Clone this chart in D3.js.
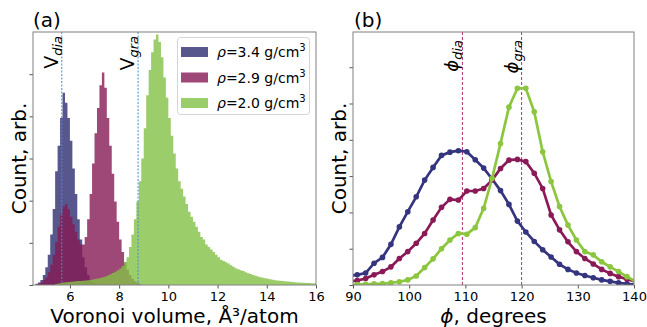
<!DOCTYPE html>
<html>
<head>
<meta charset="utf-8">
<script src="https://cdn.jsdelivr.net/npm/d3@7"></script>
<style>
  body { margin: 0; background: #fff; }
  text { font-family: "DejaVu Sans", sans-serif; fill: #000; }
</style>
</head>
<body>
<div class="chart"></div>
<script>
// Panel (a): Voronoi volume histograms, heights as fraction of the axis height
var binWidth = 0.1;
var blueStart = 4.6;
var blueHist = [0.005, 0.01, 0.02, 0.04, 0.07, 0.12, 0.2, 0.3, 0.45, 0.55,
  0.66, 0.76, 0.72, 0.66, 0.57, 0.46, 0.36, 0.26, 0.18, 0.11,
  0.07, 0.04, 0.02, 0.01, 0.005];
var purpleStart = 4.7;
var purpleHist = [0.005, 0.01, 0.02, 0.03, 0.05, 0.08, 0.12, 0.17, 0.23, 0.28,
  0.31, 0.32, 0.3, 0.27, 0.24, 0.21, 0.18, 0.16, 0.16, 0.19,
  0.26, 0.36, 0.48, 0.6, 0.7, 0.79, 0.84, 0.78, 0.66, 0.55,
  0.44, 0.33, 0.25, 0.18, 0.13, 0.09, 0.06, 0.04, 0.025, 0.015,
  0.01, 0.005];
var greenStart = 5.4;
var greenHist = [0.004, 0.006, 0.008, 0.01, 0.011, 0.012, 0.013, 0.014, 0.015, 0.016,
  0.016, 0.017, 0.018, 0.019, 0.02, 0.022, 0.024, 0.026, 0.028, 0.031,
  0.034, 0.038, 0.042, 0.047, 0.052, 0.058, 0.065, 0.075, 0.09, 0.11,
  0.15, 0.2, 0.26, 0.33, 0.41, 0.5, 0.62, 0.75, 0.85, 0.92,
  0.97, 0.99, 0.96, 0.9, 0.82, 0.74, 0.66, 0.59, 0.52, 0.46,
  0.41, 0.38, 0.35, 0.32, 0.29, 0.27, 0.25, 0.23, 0.21, 0.19,
  0.18, 0.16, 0.15, 0.14, 0.13, 0.12, 0.11, 0.1, 0.095, 0.09,
  0.085, 0.078, 0.072, 0.066, 0.062, 0.058, 0.055, 0.05, 0.046, 0.043,
  0.04, 0.037, 0.034, 0.031, 0.029, 0.027, 0.025, 0.023, 0.021, 0.019,
  0.018, 0.017, 0.016, 0.015, 0.014, 0.013, 0.012, 0.011, 0.01, 0.01,
  0.009, 0.009, 0.008, 0.008, 0.007, 0.007];
var legendLabels = ["3.4", "2.9", "2.0"];
var vDia = 5.67, vGra = 8.77;
var volTicks = [6, 8, 10, 12, 14, 16];

// Panel (b): bond angle distributions
var angles = [89.25, 90.75, 92.25, 93.75, 95.25, 96.75, 98.25, 99.75, 101.25, 102.75,
  104.25, 105.75, 107.25, 108.75, 110.25, 111.75, 113.25, 114.75, 116.25, 117.75,
  119.25, 120.75, 122.25, 123.75, 125.25, 126.75, 128.25, 129.75, 131.25, 132.75,
  134.25, 135.75, 137.25, 138.75, 140.25];
var blueAngle = [0.25, 0.28, 0.33, 0.6, 0.76, 1.12, 1.6, 2.02, 2.43, 2.89,
  3.24, 3.57, 3.66, 3.7, 3.67, 3.45, 3.22, 2.92, 2.6, 2.22,
  1.76, 1.46, 1.2, 0.97, 0.77, 0.57, 0.43, 0.33, 0.26, 0.2,
  0.14, 0.1, 0.06, 0.03, 0.01];
var purpleAngle = [0.1, 0.12, 0.18, 0.28, 0.37, 0.5, 0.73, 0.92, 1.15, 1.42,
  1.79, 2.14, 2.36, 2.34, 2.59, 2.59, 2.66, 2.89, 3.21, 3.44,
  3.46, 3.4, 3.08, 2.66, 1.93, 1.52, 1.19, 0.92, 0.73, 0.58,
  0.43, 0.32, 0.23, 0.16, 0.1];
var greenAngle = [0.0, 0.01, 0.02, 0.03, 0.04, 0.06, 0.09, 0.14, 0.25, 0.48,
  0.72, 1.0, 1.24, 1.42, 1.4, 1.58, 2.11, 2.94, 3.9, 4.9,
  5.42, 5.42, 4.77, 3.67, 2.85, 2.16, 1.65, 1.24, 0.92, 0.83,
  0.64, 0.5, 0.37, 0.23, 0.1];
var phiDia = 109.47, phiGra = 120;
var angleTicks = [90, 100, 110, 120, 130, 140];

var fills = ["#2d2d70", "#861a55", "#83c146"];
var lineColors = ["#34347f", "#8a1a57", "#8cc63f"];

var svgWidth = 647, svgHeight = 327;
var plotTop = 32, plotBottom = 285;
var bLeft = 353, bRight = 634;

var svg = d3.select(".chart").append("svg")
  .attr("width", svgWidth)
  .attr("height", svgHeight);

// ---------- panel (a) ----------
var xA = d3.scaleLinear().domain([4.5, 16]).range([33, 316]);
var yA = d3.scaleLinear().domain([0, 1]).range([plotBottom, plotTop]);

svg.append("clipPath").attr("id", "clipA")
  .append("rect").attr("x", 33).attr("y", plotTop).attr("width", 283).attr("height", plotBottom - plotTop);

function histPoints(start, hist) {
  var pts = hist.map((h, i) => ({ x: start + i * binWidth, y: h }));
  pts.push({ x: start + hist.length * binWidth, y: 0 });
  return pts;
}

var histArea = d3.area()
  .x(d => xA(d.x))
  .y0(yA(0))
  .y1(d => yA(d.y))
  .curve(d3.curveStepAfter);

var histGroup = svg.append("g").attr("clip-path", "url(#clipA)");
[[blueStart, blueHist], [purpleStart, purpleHist], [greenStart, greenHist]].forEach((s, i) => {
  histGroup.append("path")
    .attr("d", histArea(histPoints(s[0], s[1])))
    .attr("fill", fills[i])
    .attr("fill-opacity", 0.8);
});

// reference volumes
[vDia, vGra].forEach(v => {
  svg.append("line")
    .attr("x1", xA(v)).attr("x2", xA(v))
    .attr("y1", plotTop).attr("y2", plotBottom)
    .attr("stroke", "#3f8fcc")
    .attr("stroke-width", 1)
    .attr("stroke-dasharray", "2,1.5");
});

function rotLabel(x, y, main, sub) {
  var t = svg.append("text")
    .attr("transform", `translate(${x},${y}) rotate(-90)`)
    .attr("text-anchor", "end")
    .style("font-size", "19px");
  t.append("tspan").text(main);
  t.append("tspan").text(sub)
    .style("font-size", "13px")
    .style("font-style", "italic")
    .attr("dy", 4);
}
rotLabel(xA(vDia) - 4, 36, "V", "dia");
rotLabel(xA(vGra) - 4, 36, "V", "gra");

// axes a
svg.append("g").attr("transform", `translate(0,${plotBottom})`)
  .call(d3.axisBottom(xA).tickValues(volTicks).tickSize(3.5).tickPadding(3));
svg.append("g").attr("transform", "translate(33,0)")
  .call(d3.axisLeft(yA).tickValues([0, 1 / 6, 2 / 6, 3 / 6, 4 / 6, 5 / 6]).tickSize(3.5).tickFormat(""));

svg.append("rect")
  .attr("x", 33).attr("y", plotTop).attr("width", 283).attr("height", plotBottom - plotTop)
  .attr("fill", "none").attr("stroke", "#808080").attr("stroke-width", 1);

// legend
var legend = svg.append("g");
legend.append("rect")
  .attr("x", 177.5).attr("y", 37.5).attr("width", 132).attr("height", 77)
  .attr("rx", 3).attr("fill", "#fff").attr("fill-opacity", 0.8)
  .attr("stroke", "#d5d5d5");
legendLabels.forEach((lab, i) => {
  var cy = 52 + i * 25.5;
  legend.append("rect")
    .attr("x", 181).attr("y", cy - 5).attr("width", 27).attr("height", 10)
    .attr("fill", fills[i]).attr("fill-opacity", 0.8);
  var t = legend.append("text").attr("x", 217).attr("y", cy + 5).style("font-size", "14px");
  t.append("tspan").text("ρ").style("font-style", "italic");
  t.append("tspan").text("=" + lab + " g/cm");
  t.append("tspan").text("3").style("font-size", "10px").attr("dy", -6);
});

svg.append("text").attr("x", 33).attr("y", 27).style("font-size", "20px").text("(a)");
svg.append("text")
  .attr("transform", `translate(26,${(plotTop + plotBottom) / 2}) rotate(-90)`)
  .attr("text-anchor", "middle").style("font-size", "20px")
  .text("Count, arb.");
svg.append("text")
  .attr("x", (33 + 316) / 2).attr("y", 323)
  .attr("text-anchor", "middle").style("font-size", "20px")
  .text("Voronoi volume, Å³/atom");

// ---------- panel (b) ----------
var xB = d3.scaleLinear().domain([90, 140]).range([bLeft, bRight]);
var yB = d3.scaleLinear().domain([0, 6.97]).range([plotBottom, plotTop]);

svg.append("clipPath").attr("id", "clipB")
  .append("rect").attr("x", bLeft).attr("y", plotTop).attr("width", bRight - bLeft).attr("height", plotBottom - plotTop);

var lineGroup = svg.append("g").attr("clip-path", "url(#clipB)");

[phiDia, phiGra].forEach(v => {
  lineGroup.append("line")
    .attr("x1", xB(v)).attr("x2", xB(v))
    .attr("y1", plotTop).attr("y2", plotBottom)
    .attr("stroke", "#b5306f")
    .attr("stroke-width", 1)
    .attr("stroke-dasharray", "3,2");
});

var angleLine = d3.line()
  .x(d => xB(d[0]))
  .y(d => yB(d[1]));

[blueAngle, purpleAngle, greenAngle].forEach((vals, i) => {
  var pts = angles.map((a, j) => [a, vals[j]]);
  lineGroup.append("path")
    .attr("d", angleLine(pts))
    .attr("fill", "none")
    .attr("stroke", lineColors[i])
    .attr("stroke-width", 2.7);
  lineGroup.selectAll(null)
    .data(pts)
    .enter()
    .append("circle")
    .attr("cx", d => xB(d[0]))
    .attr("cy", d => yB(d[1]))
    .attr("r", 2.8)
    .attr("fill", lineColors[i]);
});

function rotPhi(x, sub) {
  var t = svg.append("text")
    .attr("transform", `translate(${x},40) rotate(-90)`)
    .attr("text-anchor", "end")
    .style("font-size", "18px");
  t.append("tspan").text("ϕ").style("font-style", "italic");
  t.append("tspan").text(sub).style("font-size", "13px").style("font-style", "italic").attr("dy", 4);
}
rotPhi(xB(phiDia) - 4, "dia");
rotPhi(xB(phiGra) - 4, "gra");

svg.append("g").attr("transform", `translate(0,${plotBottom})`)
  .call(d3.axisBottom(xB).tickValues(angleTicks).tickSize(3.5).tickPadding(3));
svg.append("g").attr("transform", `translate(${bLeft},0)`)
  .call(d3.axisLeft(yB).tickValues([0, 1, 2, 3, 4, 5, 6]).tickSize(3.5).tickFormat(""));

svg.append("rect")
  .attr("x", bLeft).attr("y", plotTop).attr("width", bRight - bLeft).attr("height", plotBottom - plotTop)
  .attr("fill", "none").attr("stroke", "#808080").attr("stroke-width", 1);

svg.append("text").attr("x", 354).attr("y", 27).style("font-size", "20px").text("(b)");
svg.append("text")
  .attr("transform", `translate(346,${(plotTop + plotBottom) / 2}) rotate(-90)`)
  .attr("text-anchor", "middle").style("font-size", "20px")
  .text("Count, arb.");
var xl = svg.append("text")
  .attr("x", (bLeft + bRight) / 2).attr("y", 323)
  .attr("text-anchor", "middle").style("font-size", "20px");
xl.append("tspan").text("ϕ").style("font-style", "italic");
xl.append("tspan").text(", degrees");

// axis styling
svg.selectAll(".domain").attr("stroke", "none");
svg.selectAll(".tick line").attr("stroke", "#555");
svg.selectAll(".tick text").style("font-size", "13px").style("font-family", "DejaVu Sans").attr("fill", "#000");
</script>
</body>
</html>
